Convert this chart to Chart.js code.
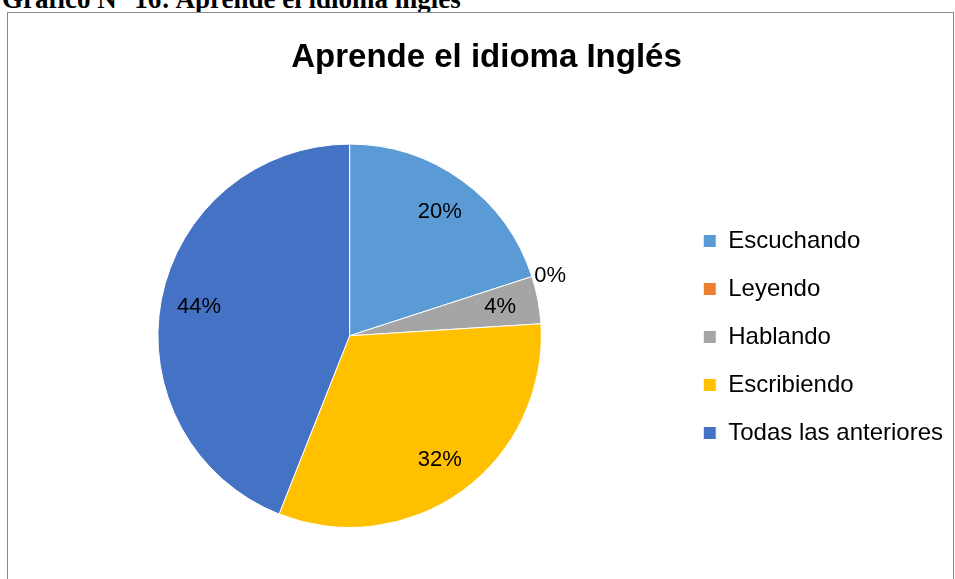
<!DOCTYPE html>
<html>
<head>
<meta charset="utf-8">
<script src="https://cdn.jsdelivr.net/npm/chart.js@4.4.1/dist/chart.umd.min.js"></script>
<style>
  body { margin: 0; background: #fff; width: 955px; height: 579px; overflow: hidden; position: relative; }
  #caption { position: absolute; left: 2px; top: -14px; font: bold 27px/1 "Liberation Serif", serif; color: #000; white-space: nowrap; }
  #box { position: absolute; left: 7px; top: 12px; width: 945px; height: 580px; border: 1px solid #888; background: #fff; }
  #wrap { position: absolute; left: 2px; top: 1px; width: 943px; height: 565px; }
</style>
</head>
<body>
<div id="caption">Gráfico N° 16: Aprende el idioma  inglés</div>
<div id="box"><div id="wrap"><canvas id="c"></canvas></div></div>
<script>
const categories = ['Escuchando', 'Leyendo', 'Hablando', 'Escribiendo', 'Todas las anteriores']
const percents = [20, 0, 4, 32, 44]
const colors = ['#5B9BD5', '#ED7D31', '#A5A5A5', '#FFC000', '#4472C4']

// percent labels on the slices (zero slice gets its label just outside)
const sliceLabels = {
  id: 'sliceLabels',
  afterDatasetsDraw(chart) {
    const ctx = chart.ctx
    const arcs = chart.getDatasetMeta(0).data
    ctx.save()
    ctx.font = '22px "Liberation Sans", Arial, sans-serif'
    ctx.fillStyle = '#000'
    ctx.textAlign = 'center'
    ctx.textBaseline = 'middle'
    arcs.forEach((arc, i) => {
      const { x, y, startAngle, endAngle, outerRadius } = arc.getProps(['x', 'y', 'startAngle', 'endAngle', 'outerRadius'], true)
      const mid = (startAngle + endAngle) / 2
      const f = percents[i] === 0 ? 1.1 : 0.8
      ctx.fillText(percents[i] + '%', x + Math.cos(mid) * outerRadius * f, y + Math.sin(mid) * outerRadius * f + (percents[i] === 0 ? 5 : 0))
    })
    ctx.restore()
  }
}

new Chart(document.getElementById('c'), {
  type: 'pie',
  data: {
    labels: categories,
    datasets: [{
      data: percents,
      backgroundColor: colors,
      borderColor: '#fff',
      borderWidth: 1
    }]
  },
  options: {
    responsive: true,
    maintainAspectRatio: false,
    animation: false,
    layout: { padding: { left: 10, right: 0, top: 0, bottom: 51 } },
    plugins: {
      title: {
        display: true,
        text: 'Aprende el idioma Inglés',
        color: '#000',
        font: { family: '"Liberation Sans", Arial, sans-serif', size: 33, weight: 'bold' },
        padding: { top: 24, bottom: 66 }
      },
      legend: {
        position: 'right',
        // empty title only pushes the legend column down
        title: { display: true, text: '', font: { size: 10 }, padding: 60 },
        labels: {
          boxWidth: 13,
          boxHeight: 13,
          padding: 24,
          color: '#000',
          font: { family: '"Liberation Sans", Arial, sans-serif', size: 24 }
        }
      },
      tooltip: { enabled: false }
    }
  },
  plugins: [sliceLabels]
})
</script>
</body>
</html>
